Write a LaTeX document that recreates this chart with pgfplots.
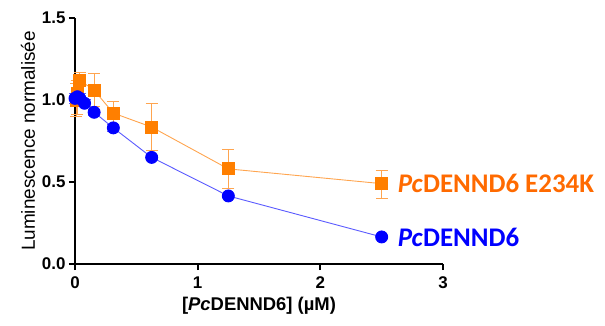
\documentclass[border=0pt]{standalone}
\usepackage{pgfplots}
\usepackage{pgfplotstable}
\pgfplotsset{compat=1.18}
\usepackage{fontspec}
\setmainfont{Liberation Sans}
\newfontfamily\calib{Carlito}
\definecolor{morange}{HTML}{FF7F00}
\definecolor{lorange}{HTML}{FFA54F}
\definecolor{torange}{HTML}{FF6A00}
\definecolor{mblue}{HTML}{0000FF}
\definecolor{lblue}{HTML}{5A5AFF}
\pgfplotstableread{
x y ep em
0.0098 1.00 0.10 0.10
0.0195 1.04 0.08 0.13
0.039 1.12 0.05 0.08
0.156 1.06 0.10 0.10
0.3125 0.92 0.07 0.07
0.625 0.835 0.145 0.14
1.25 0.58 0.12 0.12
2.5 0.49 0.08 0.09
}\mut
\pgfplotstableread{
x y ep em
0.0 1.01 0.03 0.03
0.0195 1.02 0.03 0.03
0.039 1.01 0.03 0.03
0.078 0.98 0.02 0.02
0.156 0.925 0.02 0.02
0.3125 0.83 0.02 0.02
0.625 0.65 0.01 0.01
1.25 0.415 0.01 0.01
2.5 0.165 0.01 0.01
}\wt
\begin{document}
\begin{tikzpicture}[x=1bp,y=1bp]
\begin{axis}[
  at={(0,0)}, anchor=south west,
  scale only axis, width=368bp, height=246bp,
  xmin=0, xmax=3, ymin=0, ymax=1.5,
  axis x line*=bottom, axis y line*=left,
  axis line style={line width=1.8bp, black},
  xtick={0,1,2,3}, ytick={0,0.5,1,1.5},
  tick align=outside, major tick length=6bp,
  tick style={line width=1.8bp, black},
  yticklabel style={/pgf/number format/.cd, fixed, fixed zerofill, precision=1},
  /pgf/number format/assume math mode=true,
  ticklabel style={font=\fontsize{17}{17}\selectfont\bfseries},
  xticklabel style={yshift=-3bp},
  xlabel={[\textit{Pc}DENND6] (µM)},
  ylabel={Luminescence normalisée},
  xlabel style={font=\fontsize{18.5}{18.5}\selectfont\bfseries, yshift=-2bp},
  ylabel style={font=\fontsize{19}{19}\selectfont, yshift=0bp},
  clip=false,
]
\addplot[lorange, line width=0.9bp, mark=square*, mark size=6bp,
  mark options={morange, fill=morange, solid},
  error bars/.cd, y dir=both, y explicit,
  error bar style={lorange, line width=1bp}, error mark options={lorange, line width=1bp, mark size=6bp, rotate=90}]
  table[x=x, y=y, y error plus=ep, y error minus=em] {\mut};
\addplot[lblue, line width=0.9bp, mark=*, mark size=6bp,
  mark options={mblue, fill=mblue, solid},
  error bars/.cd, y dir=both, y explicit,
  error bar style={lblue, line width=1bp}, error mark options={lblue, line width=1bp, mark size=6bp, rotate=90}]
  table[x=x, y=y, y error plus=ep, y error minus=em] {\wt};
\node[anchor=west, text=torange, font=\calib\fontsize{27}{27}\selectfont\bfseries, inner sep=0pt] at (axis cs:2.63,0.49) {\textit{Pc}DENND6 E234K};
\node[anchor=west, text=mblue, font=\calib\fontsize{27}{27}\selectfont\bfseries, inner sep=0pt] at (axis cs:2.63,0.165) {\textit{Pc}DENND6};
\end{axis}
\pgfresetboundingbox
\path (-75bp,-62bp) rectangle (530bp,264bp);
\end{tikzpicture}
\end{document}
